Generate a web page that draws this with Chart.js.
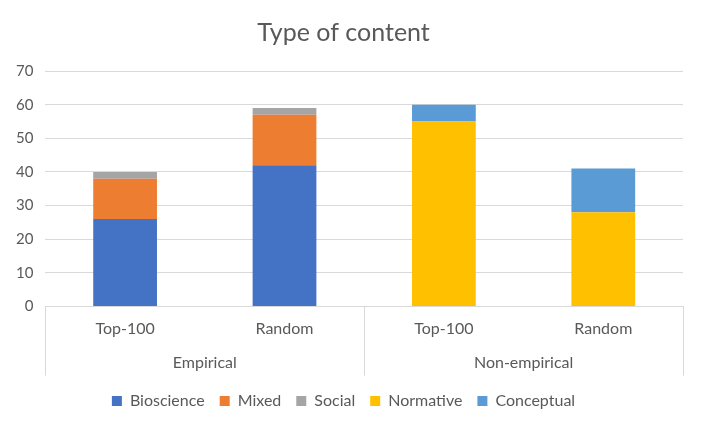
<!DOCTYPE html>
<html>
<head>
<meta charset="utf-8">
<script src="https://cdn.jsdelivr.net/npm/chart.js@4/dist/chart.umd.min.js"></script>
<style>
html,body{margin:0;padding:0;background:#fff;}
#wrap{width:703px;height:429px;}
</style>
</head>
<body>
<div id="wrap"><canvas id="c"></canvas></div>
<script>
const categories = ['Top-100', 'Random', 'Top-100', 'Random'];
const groups = ['Empirical', 'Non-empirical'];
const bioscience = [26, 42, null, null];
const mixed = [12, 15, null, null];
const social = [2, 2, null, null];
const normative = [null, null, 55, 28];
const conceptual = [null, null, 5, 13];
const yTicks = [0, 10, 20, 30, 40, 50, 60, 70];

const FONT = 'Lato, "Open Sans", sans-serif';
const GRAY = '#595959';

const groupLines = {
  id: 'groupLines',
  afterDraw(chart) {
    const x = chart.scales.x;
    const ctx = chart.ctx;
    const top = chart.chartArea.bottom;
    const bottom = top + 69;
    const mid = (x.getPixelForValue(1) + x.getPixelForValue(2)) / 2;
    ctx.save();
    ctx.strokeStyle = '#d9d9d9';
    ctx.lineWidth = 1;
    [x.left, mid, x.right].forEach(px => {
      ctx.beginPath();
      ctx.moveTo(Math.round(px) + 0.5, top);
      ctx.lineTo(Math.round(px) + 0.5, bottom);
      ctx.stroke();
    });
    ctx.restore();
  }
};

const mk = (label, data, color) => ({
  label, data, backgroundColor: color, borderWidth: 0,
  barPercentage: 0.4, categoryPercentage: 1.0, xAxisID: 'x'
});

new Chart(document.getElementById('c'), {
  type: 'bar',
  data: {
    labels: categories,
    datasets: [
      mk('Bioscience', bioscience, '#4472c4'),
      mk('Mixed', mixed, '#ed7d31'),
      mk('Social', social, '#a5a5a5'),
      mk('Normative', normative, '#ffc000'),
      mk('Conceptual', conceptual, '#5b9bd5')
    ]
  },
  options: {
    responsive: true,
    maintainAspectRatio: false,
    animation: false,
    layout: { padding: { left: 4, right: 20, top: 8, bottom: 10 } },
    plugins: {
      title: {
        display: true, text: 'Type of content', color: GRAY,
        font: { family: FONT, size: 25, weight: 'normal' },
        padding: { top: 10, bottom: 23 }
      },
      legend: {
        position: 'bottom',
        labels: {
          color: GRAY, font: { family: FONT, size: 16 },
          boxWidth: 10, boxHeight: 10, padding: 15
        }
      },
      tooltip: { enabled: false }
    },
    scales: {
      x: {
        type: 'category',
        stacked: true,
        offset: true,
        grid: { display: false, drawTicks: false },
        border: { display: true, color: '#d9d9d9' },
        ticks: { color: GRAY, font: { family: FONT, size: 16 }, padding: 13 }
      },
      x2: {
        type: 'category',
        labels: groups,
        position: 'bottom',
        offset: true,
        grid: { display: false, drawTicks: false },
        border: { display: false },
        ticks: { color: GRAY, font: { family: FONT, size: 16 }, padding: 1 },
        afterFit(scale) { scale.height += 5; }
      },
      y: {
        stacked: true,
        min: 0, max: 70,
        afterBuildTicks(scale) { scale.ticks = yTicks.map(v => ({ value: v })); },
        grid: { color: '#d9d9d9', drawTicks: false },
        border: { display: false },
        ticks: { color: GRAY, font: { family: FONT, size: 15 }, padding: 12 }
      }
    }
  },
  plugins: [groupLines]
});
</script>
</body>
</html>
